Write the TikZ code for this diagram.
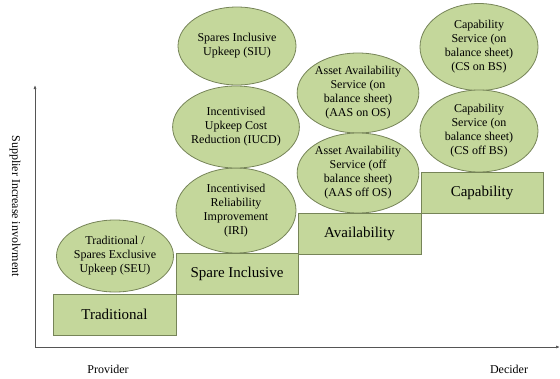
\documentclass[tikz,border=0pt]{standalone}
\usepackage{fontspec}
\setmainfont{Liberation Serif}
\newfontfamily\tnr{Liberation Serif}
\usetikzlibrary{shapes.geometric,arrows.meta}
\definecolor{boxfill}{RGB}{196,215,155}
\definecolor{boxline}{RGB}{118,132,88}
\definecolor{axisgray}{RGB}{85,85,85}
\begin{document}
\begin{tikzpicture}[x=1pt,y=-1pt,
  stagebox/.style={draw=boxline, fill=boxfill, line width=0.8pt, minimum width=122pt, minimum height=41pt, inner sep=0pt, font=\tnr\fontsize{15}{17}\selectfont},
  model/.style={ellipse, draw=boxline, fill=boxfill, line width=0.8pt, inner sep=0pt, align=center, font=\tnr\fontsize{12}{14}\selectfont},
  axislabel/.style={font=\tnr\fontsize{12}{14}\selectfont, inner sep=0pt},
  axisline/.style={draw=axisgray, line width=0.7pt, -{Latex[length=4pt,width=3pt]}}]
\useasboundingbox (0,0) rectangle (560,378);
% axes
\coordinate (o) at (35,347);
\coordinate (ytop) at (35,85);
\coordinate (xend) at (560,347);
\draw[axisline] (o) -- (ytop);
\draw[axisline] (o) -- (xend);
\node[axislabel, rotate=-90] (ylab) at (15,206) {Supplier Increase involvment};
\node[axislabel] (prov) at (108,369) {Provider};
\node[axislabel] (dec) at (509,369) {Decider};
% stage boxes
\node[stagebox, minimum width=123pt] (trad) at (114.5,314.5) {Traditional};
\node[stagebox] (spare) at (237,274) {Spare Inclusive};
\node[stagebox, minimum width=123pt] (avail) at (359.5,233.5) {Availability};
\node[stagebox] (capab) at (482,192.5) {Capability};
% models
\node[model, minimum width=117pt, minimum height=72pt] (seu) at (115,256) {Traditional /\\Spares Exclusive\\Upkeep (SEU)};
\node[model, minimum width=120pt, minimum height=85pt] (iri) at (236,210.5) {Incentivised\\Reliability\\Improvement\\(IRI)};
\node[model, minimum width=120pt, minimum height=82pt] (iucd) at (236,127) {Incentivised\\Upkeep Cost\\Reduction (IUCD)};
\node[model, minimum width=118pt, minimum height=78pt] (siu) at (237,46) {Spares Inclusive\\Upkeep (SIU)};
\node[model, minimum width=121pt, minimum height=80pt] (aason) at (358,93) {Asset Availability\\Service (on\\balance sheet)\\(AAS on OS)};
\node[model, minimum width=121pt, minimum height=80pt] (aasoff) at (358,173) {Asset Availability\\Service (off\\balance sheet)\\(AAS off OS)};
\node[model, minimum width=118pt, minimum height=87pt] (cson) at (479,47) {Capability\\Service (on\\balance sheet)\\(CS on BS)};
\node[model, minimum width=118pt, minimum height=82pt] (csoff) at (479,131) {Capability\\Service (on\\balance sheet)\\(CS off BS)};
\end{tikzpicture}
\end{document}
